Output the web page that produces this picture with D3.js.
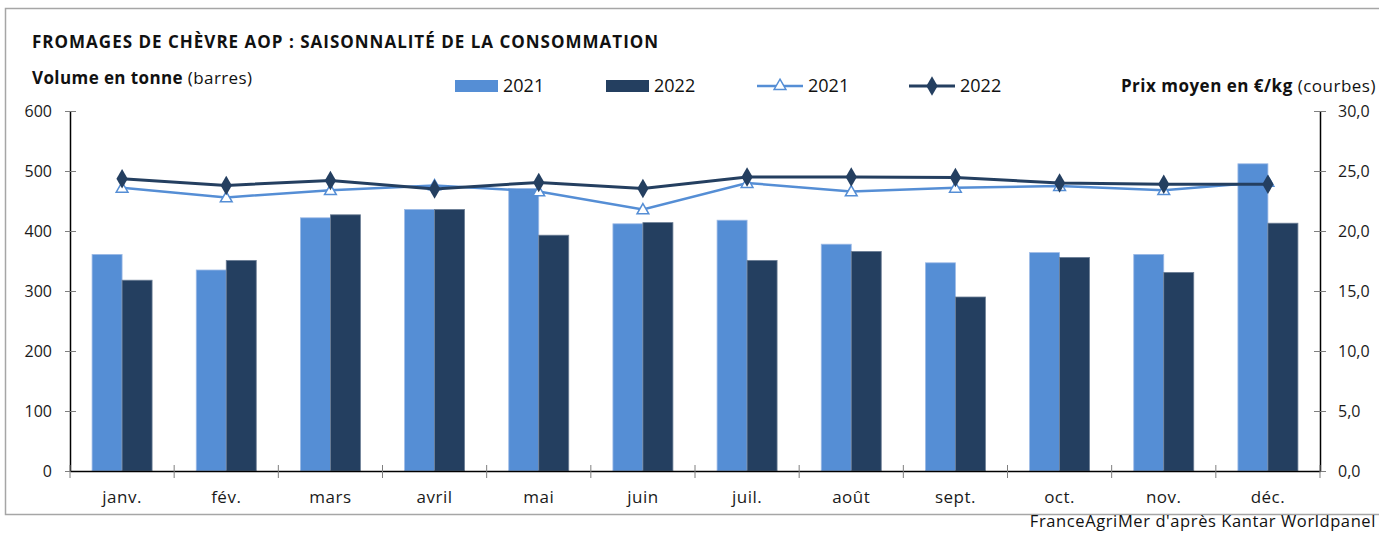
<!DOCTYPE html>
<html lang="fr">
<head>
<meta charset="utf-8">
<script src="https://cdn.jsdelivr.net/npm/d3@7"></script>
<style>
  html, body { margin: 0; padding: 0; background: #fff; }
  svg { display: block; font-family: "Open Sans", "Noto Sans", sans-serif; }
</style>
</head>
<body>
<svg id="chart" width="1379" height="533"></svg>
<script>
// Months (x categories)
const months = ["janv.", "fév.", "mars", "avril", "mai", "juin", "juil.", "août", "sept.", "oct.", "nov.", "déc."];
const years = ["2021", "2022"];

// Volumes in tonnes (bars)
const volume2021 = [361, 335, 422, 436, 471, 412, 418, 378, 347, 364, 361, 512];
const volume2022 = [318, 351, 427, 436, 393, 414, 351, 366, 290, 356, 331, 413];

// Average price in €/kg (lines)
const price2021 = [23.6, 22.8, 23.4, 23.8, 23.3, 21.8, 24.0, 23.3, 23.6, 23.75, 23.4, 24.1];
const price2022 = [24.35, 23.8, 24.2, 23.5, 24.05, 23.55, 24.5, 24.5, 24.45, 24.0, 23.9, 23.9];

// Axis ticks
const volumeTicks = [0, 100, 200, 300, 400, 500, 600];
const priceTicks = [0, 5, 10, 15, 20, 25, 30];

const colLight = "#558ed5";
const colDark = "#243f60";

const svg = d3.select("#chart");

// Outer frame
svg.append("path")
  .attr("d", "M1379,8.5 H5.5 V514.5 H1379")
  .attr("fill", "none").attr("stroke", "#a6a6a6").attr("stroke-width", 1.5);

const plotLeft = 70, plotRight = 1320, plotTop = 111, plotBottom = 471;

const x = d3.scaleBand().domain(months).range([plotLeft, plotRight]).padding(0);
const xYear = d3.scaleBand().domain(years).range([0, 60]).padding(0);
const yVol = d3.scaleLinear().domain([0, 600]).range([plotBottom, plotTop]);
const yPrice = d3.scaleLinear().domain([0, 30]).range([plotBottom, plotTop]);

const barOffset = (x.bandwidth() - 60) / 2;

// Bars
const volumes = { "2021": volume2021, "2022": volume2022 };
const barColor = { "2021": colLight, "2022": colDark };
const barEdge = { "2021": "#9dbbe6", "2022": "#6d7f96" };
years.forEach(yr => {
  svg.append("g").selectAll("rect")
    .data(months.map((m, i) => ({ m, v: volumes[yr][i] })))
    .join("rect")
    .attr("x", d => x(d.m) + barOffset + xYear(yr))
    .attr("y", d => yVol(d.v))
    .attr("width", xYear.bandwidth())
    .attr("height", d => yVol(0) - yVol(d.v))
    .attr("fill", barColor[yr])
    .attr("stroke", barEdge[yr])
    .attr("stroke-width", 0.8);
});

// Left axis
const axL = svg.append("g").attr("transform", `translate(${plotLeft},0)`)
  .call(d3.axisLeft(yVol).tickValues(volumeTicks).tickSize(0).tickPadding(18));
axL.select(".domain").attr("stroke", "#000").attr("stroke-width", 1.5);
axL.selectAll("text").attr("font-size", 16).attr("fill", "#1a1a1a").attr("font-family", "Open Sans, sans-serif");
axL.selectAll(".tick").append("line").attr("x1", -5).attr("x2", 6).attr("stroke", "#7f7f7f");

// Right axis
const axR = svg.append("g").attr("transform", `translate(${plotRight},0)`)
  .call(d3.axisRight(yPrice).tickValues(priceTicks).tickSize(0).tickPadding(18)
    .tickFormat(d => d3.format(".1f")(d).replace(".", ",")));
axR.select(".domain").attr("stroke", "#000").attr("stroke-width", 1.5);
axR.selectAll("text").attr("font-size", 16).attr("fill", "#1a1a1a").attr("font-family", "Open Sans, sans-serif");
axR.selectAll(".tick").append("line").attr("x1", -6).attr("x2", 6).attr("stroke", "#7f7f7f");

// Bottom axis
const axB = svg.append("g").attr("transform", `translate(0,${plotBottom})`)
  .call(d3.axisBottom(x).tickSize(0).tickPadding(20));
axB.select(".domain").attr("stroke", "#000").attr("stroke-width", 1.5);
axB.selectAll("text").attr("font-size", 17).attr("letter-spacing", 0.5)
  .attr("fill", "#1a1a1a").attr("font-family", "Open Sans, sans-serif");
const boundaries = d3.range(months.length + 1).map(i => plotLeft + i * x.step());
axB.append("g").selectAll("line").data(boundaries).join("line")
  .attr("x1", d => d).attr("x2", d => d).attr("y1", -6).attr("y2", 7)
  .attr("stroke", "#7f7f7f");

// Lines
const cx = (m) => x(m) + x.bandwidth() / 2;
const line = d3.line().x(d => cx(d.m)).y(d => yPrice(d.v));
const p21 = months.map((m, i) => ({ m, v: price2021[i] }));
const p22 = months.map((m, i) => ({ m, v: price2022[i] }));

const triangle = d3.symbol().type(d3.symbolTriangle).size(60);
const diamond = d3.symbol().type(d3.symbolDiamond).size(110);

svg.append("path").datum(p21).attr("d", line)
  .attr("fill", "none").attr("stroke", colLight).attr("stroke-width", 2.5);
svg.append("g").selectAll("path").data(p21).join("path")
  .attr("d", triangle)
  .attr("transform", d => `translate(${cx(d.m)},${yPrice(d.v) + 1})`)
  .attr("fill", "#fff").attr("stroke", colLight).attr("stroke-width", 1.5);

svg.append("path").datum(p22).attr("d", line)
  .attr("fill", "none").attr("stroke", colDark).attr("stroke-width", 3);
svg.append("g").selectAll("path").data(p22).join("path")
  .attr("d", diamond)
  .attr("transform", d => `translate(${cx(d.m)},${yPrice(d.v)})`)
  .attr("fill", colDark);

// Title
svg.append("text").attr("x", 32).attr("y", 48)
  .attr("font-size", 17).attr("font-weight", 700).attr("letter-spacing", 1)
  .attr("fill", "#111")
  .text("FROMAGES DE CHÈVRE AOP : SAISONNALITÉ DE LA CONSOMMATION");

// Axis titles
const tL = svg.append("text").attr("x", 32).attr("y", 84).attr("font-size", 17)
  .attr("letter-spacing", 0.4).attr("fill", "#111");
tL.append("tspan").attr("font-weight", 700).text("Volume en tonne");
tL.append("tspan").text(" (barres)");

const tR = svg.append("text").attr("x", 1376).attr("y", 92).attr("font-size", 17)
  .attr("letter-spacing", 0.5).attr("fill", "#111").attr("text-anchor", "end");
tR.append("tspan").attr("font-weight", 700).text("Prix moyen en €/kg");
tR.append("tspan").text(" (courbes)");

// Legend
const legend = svg.append("g").attr("font-size", 18).attr("fill", "#111");
const barLegend = [{ yr: "2021", x: 455 }, { yr: "2022", x: 606 }];
barLegend.forEach(d => {
  legend.append("rect").attr("x", d.x).attr("y", 80).attr("width", 43).attr("height", 12)
    .attr("fill", barColor[d.yr]);
  legend.append("text").attr("x", d.x + 48).attr("y", 92).text(d.yr);
});
const lineLegend = [{ yr: "2021", x: 757 }, { yr: "2022", x: 909 }];
lineLegend.forEach(d => {
  const c = d.yr === "2021" ? colLight : colDark;
  legend.append("line").attr("x1", d.x).attr("x2", d.x + 46).attr("y1", 86).attr("y2", 86)
    .attr("stroke", c).attr("stroke-width", d.yr === "2021" ? 2.5 : 3);
  if (d.yr === "2021") {
    legend.append("path").attr("d", triangle).attr("transform", `translate(${d.x + 23},86)`)
      .attr("fill", "#fff").attr("stroke", c).attr("stroke-width", 1.5);
  } else {
    legend.append("path").attr("d", diamond).attr("transform", `translate(${d.x + 23},86)`)
      .attr("fill", c);
  }
  legend.append("text").attr("x", d.x + 51).attr("y", 92).text(d.yr);
});

// Source
svg.append("text").attr("x", 1376).attr("y", 527).attr("font-size", 16.5)
  .attr("letter-spacing", 0.6).attr("text-anchor", "end").attr("fill", "#111")
  .text("FranceAgriMer d'après Kantar Worldpanel");
</script>
</body>
</html>
